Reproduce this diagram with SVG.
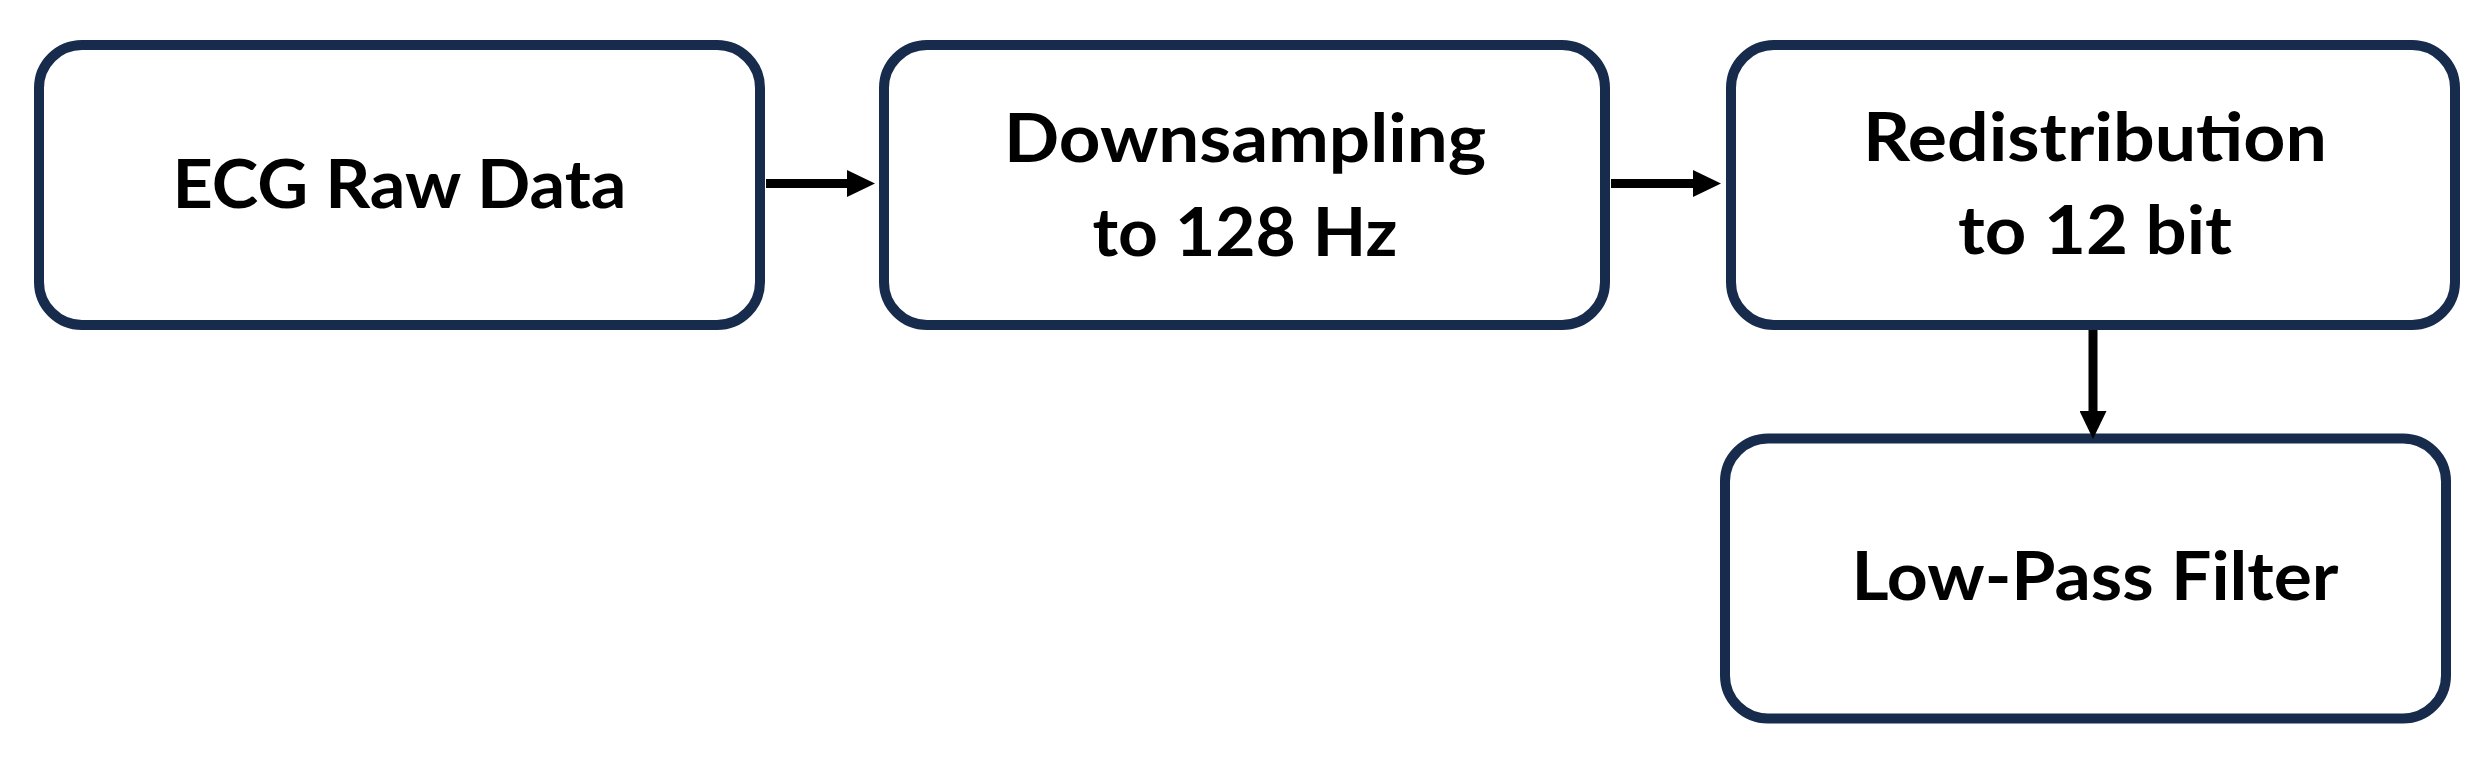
<svg xmlns="http://www.w3.org/2000/svg" width="2492" height="767" viewBox="0 0 2492 767">
  <style>
    .box { fill: #ffffff; stroke: #172b4d; stroke-width: 10; }
    .lbl { font-family: Lato, "Open Sans", "Liberation Sans", sans-serif; font-weight: 700; font-size: 67px; fill: #000000; text-anchor: middle; }
    .conn { stroke: #000000; stroke-width: 9; fill: none; }
  </style>
  <defs>
    <marker id="arrow" markerUnits="userSpaceOnUse" markerWidth="28" markerHeight="27" refX="0" refY="13.5" orient="auto" viewBox="0 0 28 27">
      <path d="M0,0 L28,13.5 L0,27 Z" fill="#000000"/>
    </marker>
  </defs>
  <rect width="2492" height="767" fill="#ffffff"/>
  <g id="node-ecg">
    <rect class="box" x="39" y="45" width="721" height="280" rx="43" ry="43"/>
    <text class="lbl" x="399.5" y="208" textLength="454" lengthAdjust="spacingAndGlyphs">ECG Raw Data</text>
  </g>
  <g id="node-downsampling">
    <rect class="box" x="884" y="45" width="721" height="280" rx="43" ry="43"/>
    <text class="lbl" x="1245" y="162" textLength="482" lengthAdjust="spacingAndGlyphs">Downsampling</text>
    <text class="lbl" x="1245" y="256" textLength="305" lengthAdjust="spacingAndGlyphs">to 128 Hz</text>
  </g>
  <g id="node-redistribution">
    <rect class="box" x="1731" y="45" width="724" height="280" rx="43" ry="43"/>
    <text class="lbl" x="2095" y="161" textLength="464" lengthAdjust="spacingAndGlyphs">Redistribution</text>
    <text class="lbl" x="2095" y="254" textLength="274" lengthAdjust="spacingAndGlyphs">to 12 bit</text>
  </g>
  <g id="node-lowpass">
    <rect class="box" x="1725" y="438.5" width="721" height="280" rx="43" ry="43"/>
    <text class="lbl" x="2095" y="600" textLength="487" lengthAdjust="spacingAndGlyphs">Low-Pass Filter</text>
  </g>
  <g id="connectors">
    <line class="conn" x1="766" y1="183.5" x2="847" y2="183.5" marker-end="url(#arrow)"/>
    <line class="conn" x1="1611" y1="183.5" x2="1693" y2="183.5" marker-end="url(#arrow)"/>
    <line class="conn" x1="2093" y1="330" x2="2093" y2="411" marker-end="url(#arrow)"/>
  </g>
</svg>
